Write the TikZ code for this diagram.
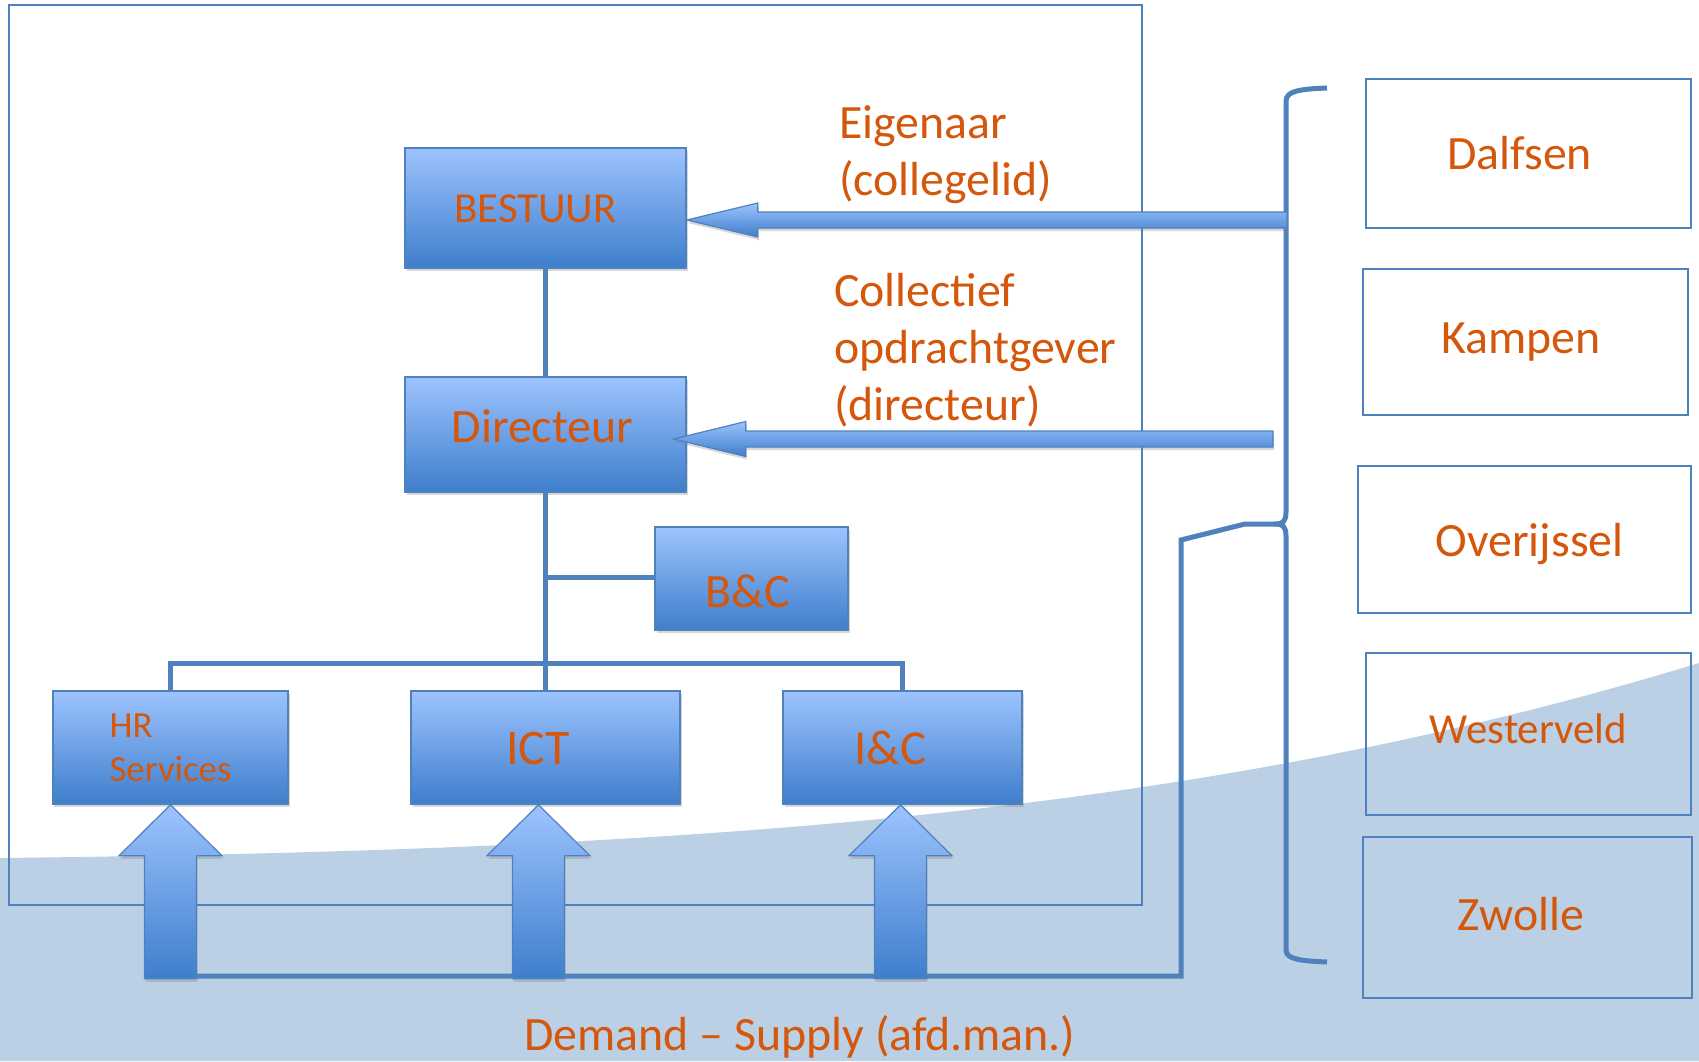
\documentclass[tikz,border=0pt]{standalone}
\usepackage{fontspec}
\setmainfont{Carlito}
\usetikzlibrary{shadows,calc}
\definecolor{lineblue}{HTML}{4F81BD}
\definecolor{boxtop}{HTML}{9DC3FE}
\definecolor{boxbot}{HTML}{3E7ECC}
\definecolor{txtorange}{HTML}{D4570C}
\definecolor{bgblue}{HTML}{BBD0E4}
\begin{document}
\begin{tikzpicture}[x=1bp,y=-1bp,
  orgbox/.style={draw=lineblue, line width=1.5bp, top color=boxtop, bottom color=boxbot,
    text=txtorange, inner sep=0pt,
    drop shadow={shadow xshift=1.5bp, shadow yshift=-3bp, opacity=0.3}},
  placebox/.style={draw=lineblue, line width=2bp, text=txtorange, inner sep=0pt},
  conn/.style={draw=lineblue, line width=5bp},
  blockarrow/.style={draw=lineblue, line width=1.2bp, top color=boxtop, bottom color=boxbot,
    drop shadow={shadow xshift=1bp, shadow yshift=-3bp, opacity=0.3}},
  lbl/.style={text=txtorange, inner sep=0pt, align=left},
  f48/.style={font=\fontsize{48}{57}\selectfont},
]
\useasboundingbox (0,0) rectangle (1699,1061);
\fill[white] (0,0) rectangle (1699,1061);
% background wave
\fill[bgblue] (0,858) .. controls (700,850) and (1200,815) .. (1699,663) -- (1699,1061) -- (0,1061) -- cycle;
% frame
\node[draw=lineblue, line width=2bp, minimum width=1133bp, minimum height=900bp, inner sep=0pt] (frame) at (575.5,455) {};

% org boxes
\node[orgbox, minimum width=281bp, minimum height=120bp, font=\fontsize{43}{51}\selectfont,
  text height=28bp, text depth=0bp] (bestuur) at (545.5,208) {BESTUUR\hspace*{20bp}};
\node[orgbox, minimum width=281bp, minimum height=115bp, f48,
  text height=15bp, text depth=0bp] (dir) at (545.5,434.5) {Directeur\hspace*{6bp}};
\node[orgbox, minimum width=193bp, minimum height=103bp, f48,
  text height=57bp, text depth=0bp] (bc) at (751.5,578.5) {B\&C\hspace*{8bp}};
\node[orgbox, minimum width=235bp, minimum height=113bp, align=left, font=\fontsize{37}{44}\selectfont] (hr) at (170.5,747.5) {HR\\Services};
\node[orgbox, minimum width=269bp, minimum height=113bp, font=\fontsize{50}{60}\selectfont,
  text height=33bp, text depth=0bp] (ict) at (545.5,747.5) {ICT\hspace*{15bp}};
\node[orgbox, minimum width=239bp, minimum height=113bp, font=\fontsize{49}{59}\selectfont,
  text height=33bp, text depth=0bp] (ic) at (902.5,747.5) {I\&C\hspace*{24bp}};

% tree connectors
\coordinate (busY) at (0,663);
\coordinate (bcY) at (0,577);
\draw[conn] (bestuur.south) -- (dir.north);
\draw[conn] (dir.south) -- (ict.north);
\draw[conn] (dir.south |- bcY) -- (bc.west |- bcY);
\draw[conn] (hr.north) -- (hr.north |- busY) -- (ic.north |- busY) -- (ic.north);

% municipality boxes
\node[placebox, minimum width=325bp, minimum height=149bp, f48] (dal) at (1528.5,153.5) {Dalfsen\hspace*{18bp}};
\node[placebox, minimum width=325bp, minimum height=146bp, f48] (kam) at (1525.5,342) {Kampen\hspace*{9bp}};
\node[placebox, minimum width=333bp, minimum height=147bp, f48,
  text height=33bp, text depth=0bp] (ove) at (1524.5,539.5) {\hspace*{10bp}Overijssel};
\node[placebox, minimum width=325bp, minimum height=162bp, font=\fontsize{43}{51}\selectfont,
  text height=19bp, text depth=0bp] (wes) at (1528.5,734) {Westerveld};
\node[placebox, minimum width=329bp, minimum height=161bp, f48,
  text height=25bp, text depth=0bp] (zwo) at (1527.5,917.5) {Zwolle\hspace*{13bp}};

% brace
\coordinate (braceTop) at (1327,88);
\coordinate (cusp) at (1276,524);
\coordinate (braceBot) at (1327,962);
\draw[lineblue, line width=5bp] (braceTop) .. controls (1300,89) and (1286,91) .. (1286,101) -- (1286,512)
  .. controls (1286,521) and (1283,524) .. (cusp)
  .. controls (1283,524) and (1286,527) .. (1286,536) -- (1286,950)
  .. controls (1286,959) and (1300,961) .. (braceBot);

% demand - supply line
\coordinate (dStart) at (157,976);
\coordinate (dCorner) at (1181,976);
\coordinate (dUp) at (1181,540);
\coordinate (dSlant) at (1245,524);
\draw[lineblue, line width=5bp] (dStart) -- (dCorner) -- (dUp) -- (dSlant) -- (cusp);

% horizontal block arrows
\coordinate (bTip) at ($(bestuur.east)+(0,12)$);
\coordinate (bTail) at (1287,220);
\path[blockarrow] (bTip) -- ($(bTip)+(71,-17)$) -- ($(bTip)+(71,-8)$) -- ($(bTail)+(0,-8)$)
  -- ($(bTail)+(0,8)$) -- ($(bTip)+(71,8)$) -- ($(bTip)+(71,17)$) -- cycle;
\coordinate (dTip) at ($(dir.east)+(-13,4.5)$);
\coordinate (dTail) at (1273,439);
\path[blockarrow] (dTip) -- ($(dTip)+(72,-17.5)$) -- ($(dTip)+(72,-8)$) -- ($(dTail)+(0,-8)$)
  -- ($(dTail)+(0,8)$) -- ($(dTip)+(72,8)$) -- ($(dTip)+(72,17.5)$) -- cycle;

% vertical block arrows
\coordinate (hTip) at (hr.south);
\coordinate (iTip) at ($(ict.south)+(-7,0)$);
\coordinate (cTip) at ($(ic.south)+(-2,0)$);
\foreach \t in {hTip,iTip,cTip}{
  \path[blockarrow] (\t) -- ($(\t)+(51.5,51)$) -- ($(\t)+(26,51)$) -- ($(\t)+(26,174)$)
    -- ($(\t)+(-26,174)$) -- ($(\t)+(-26,51)$) -- ($(\t)+(-51.5,51)$) -- cycle;
}

% labels
\node[lbl, anchor=west, f48] (eig) at (839,154.5) {Eigenaar\\(collegelid)};
\node[lbl, anchor=west, f48] (col) at (834,350) {Collectief\\opdrachtgever\\(directeur)};
\node[lbl, anchor=base, f48] (dem) at (800,1050) {Demand – Supply (afd.man.)};
\end{tikzpicture}
\end{document}
